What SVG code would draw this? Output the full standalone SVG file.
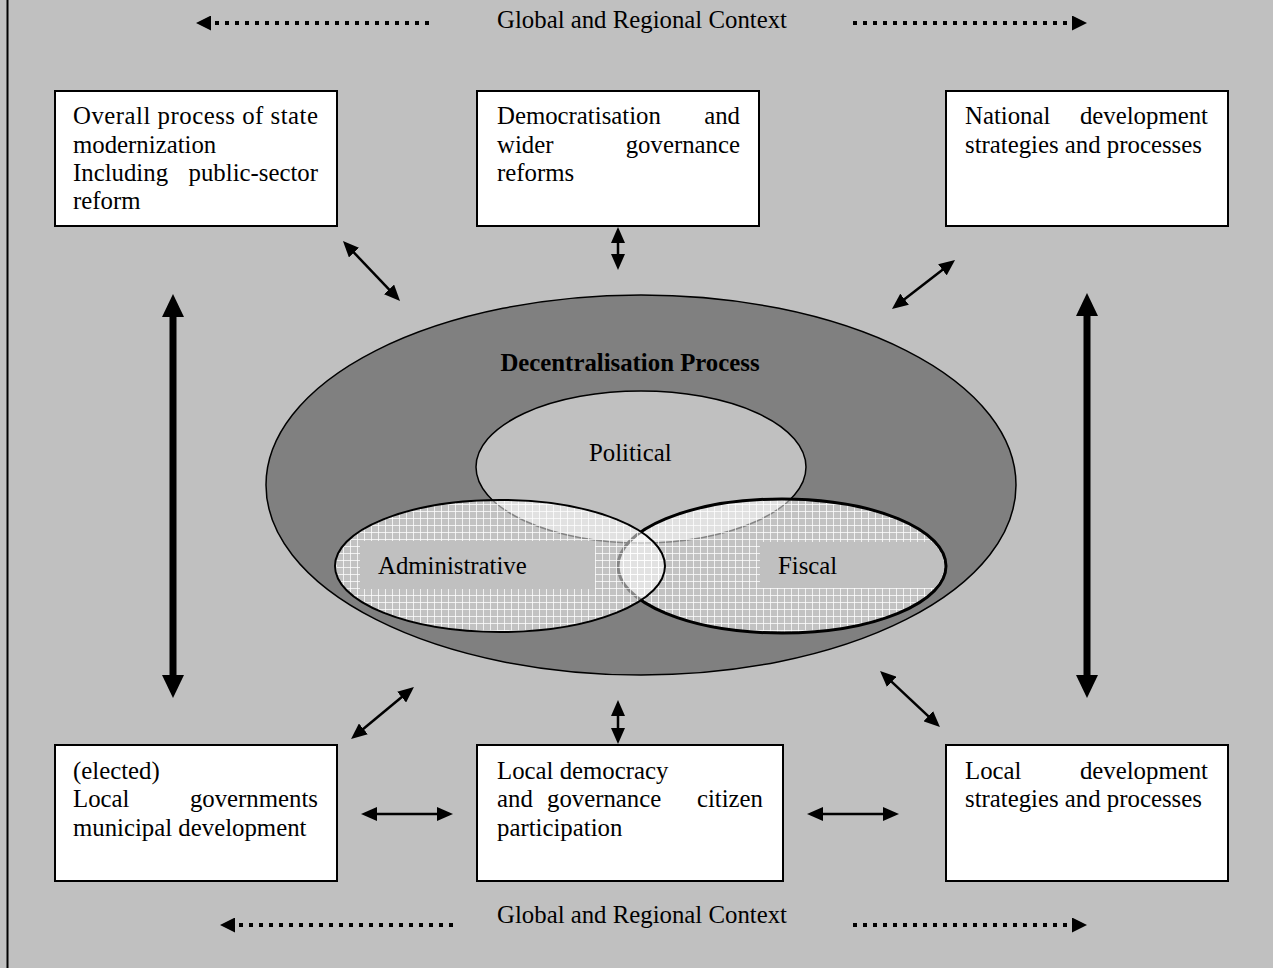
<svg xmlns="http://www.w3.org/2000/svg" width="1273" height="968" viewBox="0 0 1273 968">
<style>
  text { font-family: "Liberation Serif", "Times New Roman", serif; font-size: 24.8px; fill: #000; }
  .box { fill: #fff; stroke: #000; stroke-width: 2; }
  .thin { stroke: #000; stroke-width: 2.5; fill: none; marker-start: url(#h); marker-end: url(#h); }
  .thick { stroke: #000; stroke-width: 7; fill: none; marker-start: url(#hb); marker-end: url(#hb); }
  .dot { stroke: #000; stroke-width: 4; stroke-dasharray: 4 6; fill: none; }
  .bold { font-weight: bold; }
</style>
<defs>
  <marker id="h" markerUnits="userSpaceOnUse" markerWidth="17" markerHeight="14" refX="1" refY="7" orient="auto-start-reverse" viewBox="0 0 17 14">
    <path d="M0,0 L16,7 L0,14 z" fill="#000"/>
  </marker>
  <marker id="hb" markerUnits="userSpaceOnUse" markerWidth="24" markerHeight="22" refX="1" refY="11" orient="auto-start-reverse" viewBox="0 0 24 22">
    <path d="M0,0 L23,11 L0,22 z" fill="#000"/>
  </marker>
  <marker id="hd" markerUnits="userSpaceOnUse" markerWidth="16" markerHeight="15" refX="0" refY="7.5" orient="auto-start-reverse" viewBox="0 0 16 15">
    <path d="M0,0 L15,7.5 L0,15 z" fill="#000"/>
  </marker>
  <pattern id="grid" patternUnits="userSpaceOnUse" width="7" height="7">
    <rect width="7" height="7" fill="#fff" fill-opacity="0.52"/>
    <path d="M0,0.5 H7 M0.5,0 V7" stroke="#fff" stroke-width="1" stroke-opacity="0.75"/>
  </pattern>
  <clipPath id="fisc"><ellipse cx="782" cy="566" rx="162" ry="65"/></clipPath>
  <clipPath id="adm"><ellipse cx="500" cy="566" rx="163" ry="64"/></clipPath>
</defs>

<rect width="1273" height="968" fill="#c0c0c0"/>
<line x1="7.5" y1="0" x2="7.5" y2="968" stroke="#000" stroke-width="2"/>

<g id="context-top">
  <text x="642" y="28" text-anchor="middle">Global and Regional Context</text>
  <line class="dot" x1="211" y1="23" x2="430" y2="23" stroke-dashoffset="6" marker-start="url(#hd)"/>
  <line class="dot" x1="853" y1="23" x2="1072" y2="23" marker-end="url(#hd)"/>
</g>
<g id="context-bottom">
  <text x="642" y="923" text-anchor="middle">Global and Regional Context</text>
  <line class="dot" x1="235" y1="925" x2="454" y2="925" stroke-dashoffset="6" marker-start="url(#hd)"/>
  <line class="dot" x1="853" y1="925" x2="1072" y2="925" marker-end="url(#hd)"/>
</g>

<g id="decentralisation">
  <ellipse cx="641" cy="485" rx="375" ry="190" fill="#808080" stroke="#000" stroke-width="1.5"/>
  <text x="630" y="371" text-anchor="middle" class="bold">Decentralisation Process</text>
</g>
<g id="political">
  <ellipse cx="641" cy="467" rx="165" ry="76" fill="#c0c0c0" stroke="#000" stroke-width="1.5"/>
  <text x="589" y="461">Political</text>
</g>
<g id="fiscal">
  <ellipse cx="782" cy="566" rx="164" ry="67" fill="url(#grid)" stroke="#000" stroke-width="3"/>
  <rect x="760" y="542" width="190" height="46" fill="#c0c0c0" clip-path="url(#fisc)"/>
  <text x="778" y="574">Fiscal</text>
</g>
<g id="administrative">
  <ellipse cx="500" cy="566" rx="165" ry="66" fill="url(#grid)" stroke="#000" stroke-width="2"/>
  <rect x="360" y="541" width="235" height="48" fill="#c0c0c0" clip-path="url(#adm)"/>
  <text x="378" y="574">Administrative</text>
</g>

<g id="box-state">
  <rect class="box" x="55" y="91" width="282" height="135"/>
  <text x="73" y="124" textLength="245" lengthAdjust="spacing">Overall process of state</text>
  <text x="73" y="153">modernization</text>
  <text x="73" y="181">Including</text>
  <text x="318" y="181" text-anchor="end">public-sector</text>
  <text x="73" y="209">reform</text>
</g>
<g id="box-democratisation">
  <rect class="box" x="477" y="91" width="282" height="135"/>
  <text x="497" y="124">Democratisation</text>
  <text x="740" y="124" text-anchor="end">and</text>
  <text x="497" y="153">wider</text>
  <text x="740" y="153" text-anchor="end">governance</text>
  <text x="497" y="181">reforms</text>
</g>
<g id="box-national">
  <rect class="box" x="946" y="91" width="282" height="135"/>
  <text x="965" y="124">National</text>
  <text x="1208" y="124" text-anchor="end">development</text>
  <text x="965" y="153">strategies and processes</text>
</g>
<g id="box-localgov">
  <rect class="box" x="55" y="745" width="282" height="136"/>
  <text x="73" y="779">(elected)</text>
  <text x="73" y="807">Local</text>
  <text x="318" y="807" text-anchor="end">governments</text>
  <text x="73" y="836">municipal development</text>
</g>
<g id="box-localdemocracy">
  <rect class="box" x="477" y="745" width="306" height="136"/>
  <text x="497" y="779">Local democracy</text>
  <text x="497" y="807">and</text>
  <text x="547" y="807">governance</text>
  <text x="763" y="807" text-anchor="end">citizen</text>
  <text x="497" y="836">participation</text>
</g>
<g id="box-localdev">
  <rect class="box" x="946" y="745" width="282" height="136"/>
  <text x="965" y="779">Local</text>
  <text x="1208" y="779" text-anchor="end">development</text>
  <text x="965" y="807">strategies and processes</text>
</g>

<g id="connectors">
  <line class="thick" x1="173" y1="316" x2="173" y2="676"/>
  <line class="thick" x1="1087" y1="315" x2="1087" y2="676"/>
  <line class="thin" x1="353.3" y1="251.9" x2="389.7" y2="290.1"/>
  <line class="thin" x1="618" y1="242" x2="618" y2="255"/>
  <line class="thin" x1="943.2" y1="269.2" x2="903.8" y2="299.8"/>
  <line class="thin" x1="402.4" y1="696.5" x2="362.6" y2="729.5"/>
  <line class="thin" x1="618" y1="715" x2="618" y2="729"/>
  <line class="thin" x1="891" y1="681.2" x2="929" y2="716.8"/>
  <line class="thin" x1="376" y1="814" x2="438" y2="814"/>
  <line class="thin" x1="822" y1="814" x2="884" y2="814"/>
</g>
</svg>
